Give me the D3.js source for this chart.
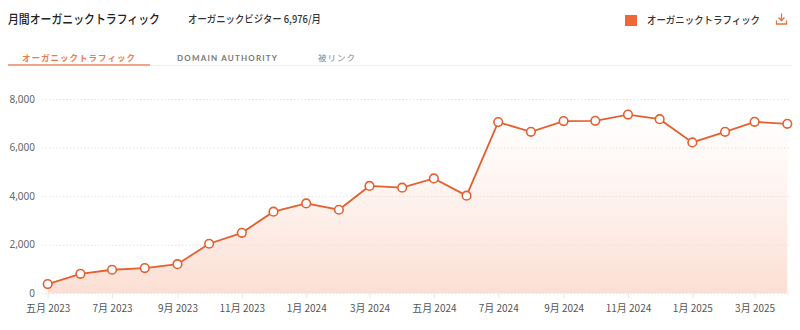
<!DOCTYPE html>
<html><head><meta charset="utf-8">
<script src="https://cdn.jsdelivr.net/npm/d3@7"></script>
<style>
body{margin:0;background:#fff;font-family:"Noto Sans CJK JP","Noto Sans",sans-serif;}
</style></head>
<body><svg id="c" width="800" height="330"></svg>
<script>
const months = ["2023-05","2023-06","2023-07","2023-08","2023-09","2023-10","2023-11","2023-12",
"2024-01","2024-02","2024-03","2024-04","2024-05","2024-06","2024-07","2024-08","2024-09","2024-10","2024-11","2024-12",
"2025-01","2025-02","2025-03","2025-04"];
const traffic = [380,800,970,1040,1200,2040,2490,3360,3700,3440,4420,4350,4730,4020,7050,6650,7090,7100,7360,7170,6210,6650,7060,6976];
const yTicks = [0,2000,4000,6000,8000];
const xTickMonths = ["2023-05","2023-07","2023-09","2023-11","2024-01","2024-03","2024-05","2024-07","2024-09","2024-11","2025-01","2025-03"];
const title = "月間オーガニックトラフィック";
const subtitle = "オーガニックビジター 6,976/月";
const legendLabel = "オーガニックトラフィック";
const tabs = ["オーガニックトラフィック","DOMAIN AUTHORITY","被リンク"];

const svg = d3.select("#c");
const orange = "#e5602f";
const parse = d3.timeParse("%Y-%m");
const data = months.map((m,i)=>({d:parse(m), v:traffic[i]}));

const x = d3.scaleTime().domain([data[0].d, data[data.length-1].d]).range([47.7, 787.3]);
const y = d3.scaleLinear().domain([0,8000]).range([293.3, 99]);

function txt(s, xx, yy, size, weight, fill, len, adj){
  const t = svg.append("text").attr("x",xx).attr("y",yy).attr("font-size",size).attr("font-weight",weight).attr("fill",fill).text(s);
  if(len) t.attr("textLength",len).attr("lengthAdjust",adj||"spacingAndGlyphs");
  return t;
}
// header
txt(title, 8, 24, 12.5, 500, "#222", 152);
txt(subtitle, 188, 23, 10.5, 500, "#333", 133);
svg.append("rect").attr("x",625).attr("y",15).attr("width",12).attr("height",11).attr("fill","#f26535");
txt(legendLabel, 647, 24, 10, 500, "#333", 113);
// download icon
const ic = svg.append("g").attr("stroke","#e8703f").attr("stroke-width",1.3).attr("fill","none");
ic.append("path").attr("d","M781.5,13.5 V20.5 M778.5,17.5 L781.5,20.5 L784.5,17.5");
ic.append("path").attr("d","M776.5,20.5 V24 H786.5 V20.5");

// tabs
svg.append("line").attr("x1",8).attr("x2",792).attr("y1",65.5).attr("y2",65.5).attr("stroke","#eeeeee");
svg.append("line").attr("x1",8).attr("x2",150).attr("y1",65).attr("y2",65).attr("stroke","#f0a58a").attr("stroke-width",2);
txt(tabs[0], 22, 61, 8.5, 700, "#ec7a4f", 113, "spacing");
txt(tabs[1], 177, 61, 8, 700, "#777", 100, "spacing").attr("font-family","Lato, 'Noto Sans', sans-serif");
txt(tabs[2], 318, 61, 8.5, 400, "#888", 37, "spacing");

// grid
const yAxis = d3.axisLeft(y).tickValues(yTicks).tickSize(-748).tickFormat(d3.format(","));
const gy = svg.append("g").attr("transform","translate(42,0)").call(yAxis);
gy.select(".domain").remove();
gy.selectAll(".tick line").attr("stroke","#e2e2e2").attr("stroke-dasharray","1.5,2");
gy.selectAll(".tick text").attr("x",-7).attr("fill","#666").attr("font-size",10).attr("font-family","'Noto Sans',sans-serif");

// gradient
const defs = svg.append("defs");
const grad = defs.append("linearGradient").attr("id","g1").attr("x1",0).attr("x2",0).attr("y1",0).attr("y2",1);
grad.append("stop").attr("offset","0%").attr("stop-color","#fde3d9").attr("stop-opacity",0.0);
grad.append("stop").attr("offset","100%").attr("stop-color","#fbd9cc").attr("stop-opacity",0.85);

const area = d3.area().x(d=>x(d.d)).y0(y(0)).y1(d=>y(d.v));
svg.append("path").datum(data).attr("d",area).attr("fill","url(#g1)");

// x axis
const xAxis = d3.axisBottom(x).tickValues(xTickMonths.map(parse)).tickSize(5).tickPadding(7)
  .tickFormat(d=>{const m=d.getMonth()+1; return (m===5?"五":m)+"月 "+d.getFullYear();});
const gx = svg.append("g").attr("transform","translate(0,293.3)").call(xAxis);
gx.select(".domain").remove();
gx.selectAll(".tick line").attr("stroke","#e6e6e6");
gx.selectAll(".tick text").attr("fill","#555").attr("font-size",10).attr("font-family","'Noto Sans CJK JP',sans-serif");

const line = d3.line().x(d=>x(d.d)).y(d=>y(d.v));
svg.append("path").datum(data).attr("d",line).attr("fill","none").attr("stroke",orange).attr("stroke-width",1.8);
svg.selectAll("circle.pt").data(data).join("circle").attr("class","pt")
  .attr("cx",d=>x(d.d)).attr("cy",d=>y(d.v)).attr("r",4.3)
  .attr("fill","#fff").attr("stroke",orange).attr("stroke-width",1.6);
</script></body></html>
